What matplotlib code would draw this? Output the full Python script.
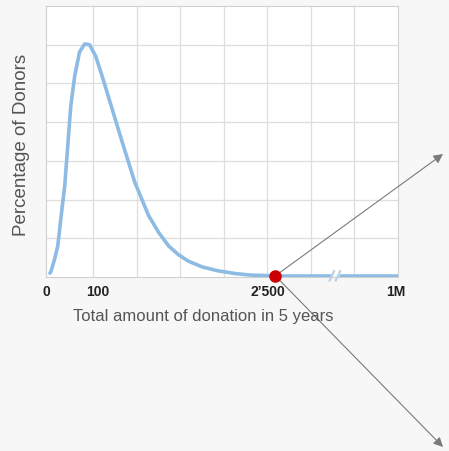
import matplotlib.pyplot as plt

plt.rcParams['font.family'] = ['Liberation Sans', 'DejaVu Sans']

# curve (x in grid columns, y in grid rows)
curve_x = [0.0, 0.02, 0.11, 0.18, 0.25, 0.34, 0.41, 0.48, 0.57, 0.68, 0.80,
           0.91, 1.05, 1.20, 1.43, 1.66, 1.95, 2.27, 2.50, 2.73, 2.95, 3.18,
           3.50, 3.86, 4.25, 4.61, 5.14]
curve_y = [0.10, 0.13, 0.47, 0.80, 1.50, 2.35, 3.39, 4.42, 5.19, 5.81, 6.02,
           6.00, 5.71, 5.19, 4.34, 3.49, 2.45, 1.58, 1.15, 0.80, 0.58, 0.41,
           0.26, 0.16, 0.09, 0.05, 0.03]
tail_x = [[5.14, 6.45], [6.68, 8.0]]
tail_y = 0.03
dot = (5.18, 0.03)
tick_pos = [-0.09, 1.09, 5.02, 7.95]
tick_labels = ['0', '100', "2\u2019500", '1M']
n_cols, n_rows = 8, 7

fig = plt.figure(figsize=(4.49, 4.52), dpi=100)
fig.patch.set_facecolor('#f7f7f7')
ax = fig.add_axes([46 / 449, 1 - 278 / 452, 352 / 449, 271 / 452])
ax.set_facecolor('white')
ax.set_xlim(0, n_cols)
ax.set_ylim(0, n_rows)
for i in range(1, n_cols):
    ax.axvline(i, color='#dedede', linewidth=0.9, zorder=1)
for j in range(1, n_rows):
    ax.axhline(j, color='#dedede', linewidth=0.9, zorder=1)
ax.set_xticks(tick_pos)
ax.set_xticklabels(tick_labels, fontsize=10, fontweight='bold', color='#222222')
ax.set_yticks([])
ax.tick_params(axis='x', length=0, pad=5)
for s in ax.spines.values():
    s.set_color('#d0d0d0')

line_kw = dict(color='#8dbbe4', linewidth=2.6, solid_capstyle='round',
               solid_joinstyle='round', zorder=3)
ax.plot(curve_x, curve_y, **line_kw)
for tx in tail_x:
    ax.plot(tx, [tail_y, tail_y], **line_kw)
# axis break marks
for bx in (6.48, 6.62):
    ax.plot([bx - 0.05, bx + 0.05], [tail_y - 0.12, tail_y + 0.12],
            color='#b9d3ea', linewidth=1.6, zorder=4, clip_on=False)

ax.plot(*dot, 'o', color='#cc0000', markersize=8, zorder=5, clip_on=False)

fig.text(203 / 449, 1 - 317 / 452, 'Total amount of donation in 5 years',
         fontsize=12, color='#555555', ha='center', va='center')
fig.text(22 / 449, 1 - 145 / 452, 'Percentage of Donors', fontsize=13.5,
         color='#555555', ha='center', va='center', rotation=90)

for end in [(443, 297), (443, 4)]:
    ax.annotate('', xy=end, xycoords='figure pixels', xytext=dot,
                textcoords='data', annotation_clip=False,
                arrowprops=dict(arrowstyle='-|>', color='#7a7a7a', lw=0.8,
                                mutation_scale=14, shrinkA=0, shrinkB=0))

fig.savefig('out.png', dpi=100, facecolor=fig.get_facecolor())
